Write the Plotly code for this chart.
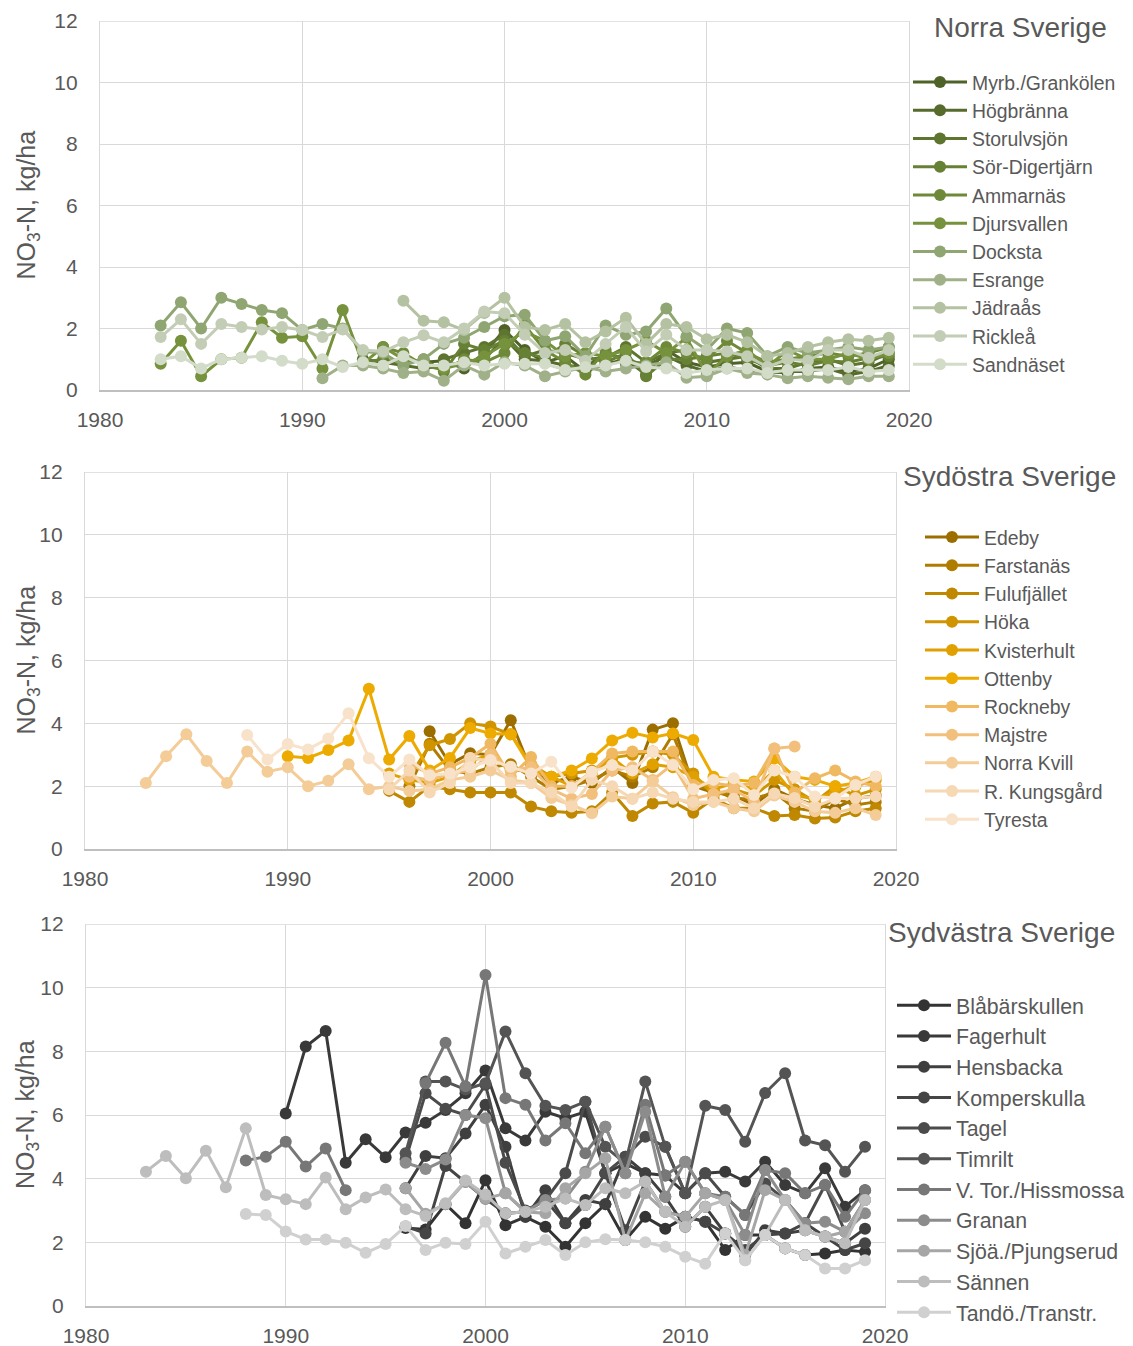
import plotly.graph_objects as go

# Years covered by the deposition series
YEARS = list(range(1983, 2020))


def pad(start, vals):
    """Align a series that begins in `start` to the common YEARS axis."""
    out = [None] * (start - YEARS[0]) + list(vals)
    return out + [None] * (len(YEARS) - len(out))


# ---------------- Norra Sverige ----------------
north_names = ["Myrb./Grankölen", "Högbränna", "Storulvsjön", "Sör-Digertjärn",
               "Ammarnäs", "Djursvallen", "Docksta", "Esrange", "Jädraås",
               "Rickleå", "Sandnäset"]
north_colors = ["#4f6228", "#566b2c", "#5e7530", "#668034", "#6e8a38", "#76923c",
                "#8fa672", "#a0b088", "#b5c2a2", "#c3cdb5", "#d3dbc9"]
myrb = pad(1996, [0.9, 0.95, 0.7, 1.2, 1.95, 1.3, 0.9, 1.1, 0.6, 0.85, 1.0, 0.5, 1.3, 0.9,
                  0.75, 0.85, 0.9, 0.6, 0.55, 0.7, 0.75, 0.6, 0.7, 1.0])
hogbranna = pad(1993, [1.0, 0.9, 0.8, 0.7, 0.8, 0.9, 1.0, 1.7, 1.0, 0.95, 0.8, 0.75, 1.2, 1.0,
                       0.8, 1.1, 0.8, 0.6, 0.75, 0.65, 0.55, 0.6, 0.6, 0.7, 0.5, 0.6, 0.8])
storulvsjon = pad(1997, [1.0, 1.2, 1.4, 1.8, 1.1, 1.3, 1.2, 1.0, 1.05, 1.4, 0.9, 1.2, 1.3, 0.9,
                         1.0, 1.1, 0.7, 0.7, 0.9, 1.0, 0.8, 0.9, 1.2])
sor_digertjarn = pad(1993, [0.9, 1.0, 0.85, 1.0, 0.6, 1.5, 1.3, 1.6, 1.2, 1.05, 1.5, 1.1, 0.9, 1.2,
                            0.45, 1.0, 1.0, 1.1, 1.2, 1.0, 0.8, 0.9, 0.8, 0.95, 0.9, 1.05, 1.1])
ammarnas = pad(1994, [1.4, 1.2, 0.8, 0.65, 1.0, 0.9, 1.2, 2.1, 1.3, 0.9, 0.5, 1.3, 0.85, 0.9,
                      1.4, 1.2, 1.0, 1.6, 1.2, 0.9, 1.0, 1.1, 1.2, 1.1, 1.2, 1.4])
djursvallen = pad(1983, [0.85, 1.6, 0.45, 1.0, 1.05, 2.2, 1.7, 1.75, 0.7, 2.6, 0.85, 1.4, 1.0,
                         0.9, 0.7, 0.85, 1.1, 1.5, 1.9, 1.6, 1.1, 1.2, 1.1, 1.3, 1.6, 1.2, 1.7,
                         0.5, 1.1, 1.3, 0.75, 1.3, 1.0, 1.0, 1.2, 1.0, 1.2])
docksta = pad(1983, [2.1, 2.85, 2.0, 3.0, 2.8, 2.6, 2.5, 1.95, 2.15, 2.0, 1.25, 1.2, 0.8, 1.0,
                     1.5, 1.7, 2.05, 2.4, 2.45, 1.6, 1.75, 1.1, 2.1, 1.8, 1.9, 2.65, 1.75, 1.3,
                     2.0, 1.85, 1.1, 1.4, 1.2, 1.3, 1.4, 1.3, 1.4])
esrange = pad(1991, [0.38, 0.8, 0.8, 0.7, 0.55, 0.6, 0.3, 0.8, 0.5, 0.9, 0.8, 0.45, 0.6, 0.75,
                     0.6, 0.7, 0.8, 0.9, 0.4, 0.45, 0.7, 0.55, 0.5, 0.38, 0.45, 0.4, 0.35, 0.45,
                     0.45])
jadraas = pad(1995, [2.9, 2.25, 2.2, 1.95, 2.5, 3.0, 2.05, 1.95, 2.15, 1.55, 1.9, 2.35, 1.5,
                     2.15, 2.05, 1.65, 1.8, 1.55, 1.1, 1.2, 1.4, 1.55, 1.65, 1.6, 1.7])
ricklea = pad(1983, [1.72, 2.3, 1.5, 2.15, 2.05, 1.97, 2.05, 1.95, 1.72, 1.97, 1.3, 1.25, 1.55,
                     1.78, 1.55, 2.0, 2.55, 2.5, 1.8, 1.2, 1.3, 0.95, 1.5, 2.05, 1.25, 1.8, 1.3,
                     1.3, 1.25, 1.1, 0.75, 1.0, 0.95, 1.3, 1.3, 1.05, 1.3])
sandnaset = pad(1983, [1.0, 1.1, 0.7, 1.0, 1.05, 1.1, 0.95, 0.85, 1.0, 0.75, 0.9, 0.8, 1.1, 0.8,
                       0.8, 0.9, 0.8, 0.85, 0.85, 0.85, 0.65, 0.75, 0.8, 0.95, 0.75, 0.7, 0.55,
                       0.65, 0.7, 0.7, 0.55, 0.65, 0.65, 0.65, 0.75, 0.6, 0.65])
north_values = [myrb, hogbranna, storulvsjon, sor_digertjarn, ammarnas, djursvallen,
                docksta, esrange, jadraas, ricklea, sandnaset]

# ---------------- Sydöstra Sverige ----------------
se_names = ["Edeby", "Farstanäs", "Fulufjället", "Höka", "Kvisterhult", "Ottenby",
            "Rockneby", "Majstre", "Norra Kvill", "R. Kungsgård", "Tyresta"]
se_colors = ["#9c6e00", "#b07c00", "#c08800", "#d09400", "#e0a000", "#edaa00",
             "#f0b860", "#f2c07c", "#f4cc98", "#f6d8b4", "#f8e2ca"]
edeby = pad(1997, [3.75, 2.7, 3.05, 3.0, 4.1, 2.5, 2.1, 2.3, 2.1, 2.6, 2.1, 3.8, 4.0, 2.0, 1.8,
                   1.7, 1.4, 1.9, 1.6, 1.4, 1.3, 1.6, 1.7])
farstanas = pad(1996, [2.0, 3.35, 2.5, 2.4, 2.6, 2.7, 2.3, 1.9, 2.0, 2.2, 2.5, 2.3, 2.6, 3.65,
                       2.0, 1.9, 1.6, 1.6, 1.8, 1.3, 1.2, 1.6, 1.4, 1.5])
fulufjallet = pad(1995, [1.85, 1.5, 2.0, 1.9, 1.8, 1.8, 1.8, 1.35, 1.2, 1.15, 1.2, 1.8, 1.05,
                         1.45, 1.5, 1.15, 1.6, 1.3, 1.3, 1.05, 1.08, 0.97, 1.0, 1.2, 1.3])
hoka = pad(1996, [2.3, 3.3, 3.5, 4.0, 3.9, 3.65, 2.7, 2.3, 2.4, 2.5, 2.9, 3.0, 3.1, 3.0, 2.4,
                  1.7, 1.9, 1.7, 2.2, 1.9, 1.5, 2.0, 1.7, 1.9])
kvisterhult = pad(1995, [2.4, 2.2, 2.1, 2.3, 2.8, 3.0, 2.5, 2.5, 2.3, 2.0, 2.4, 2.9, 2.4, 2.7,
                         2.6, 2.3, 1.9, 2.1, 1.9, 2.5, 1.7, 1.6, 1.8, 2.0, 2.2])
ottenby = pad(1990, [2.95, 2.9, 3.15, 3.45, 5.1, 2.85, 3.6, 2.5, 2.9, 3.85, 3.68, 3.65, 2.6,
                     2.3, 2.5, 2.88, 3.45, 3.7, 3.55, 3.68, 3.47, 2.3, 2.2, 2.15, 2.88, 2.3,
                     2.2, 2.0, 2.1, 2.3])
rockneby = pad(1996, [2.7, 2.4, 2.6, 2.9, 3.35, 2.3, 2.93, 2.0, 2.0, 2.45, 3.04, 3.1, 3.1, 3.1,
                      2.04, 2.1, 2.0, 2.1, 3.2, 1.8, 2.25, 2.5, 2.15, 2.0])
majstre = pad(1996, [2.3, 2.2, 2.4, 2.5, 3.0, 2.5, 2.6, 1.9, 1.6, 1.75, 2.5, 2.6, 2.2, 2.7, 1.6,
                     1.75, 1.9, 1.5, 3.2, 3.26])
norra_kvill = pad(1983, [2.1, 2.95, 3.65, 2.8, 2.1, 3.1, 2.46, 2.6, 2.0, 2.17, 2.7, 1.9, 2.0,
                         1.85, 1.9, 2.2, 2.3, 2.5, 2.2, 2.1, 1.62, 1.4, 1.14, 1.67, 1.6, 2.15,
                         1.65, 1.4, 1.5, 1.3, 1.2, 1.7, 1.5, 1.2, 1.15, 1.3, 1.08])
r_kungsgard = pad(1995, [1.9, 2.5, 1.8, 2.1, 2.9, 2.8, 2.1, 2.1, 1.8, 1.35, 2.2, 2.0, 1.6, 1.8,
                         1.6, 1.5, 1.5, 1.6, 1.3, 1.77, 1.62, 1.35, 1.6, 1.62, 1.67])
tyresta = pad(1988, [3.63, 2.85, 3.34, 3.17, 3.52, 4.32, 2.89, 2.3, 2.85, 2.35, 2.4, 2.6, 2.83,
                     2.62, 2.4, 2.78, 1.95, 2.46, 2.67, 2.5, 3.1, 2.67, 1.9, 2.2, 2.25, 1.72,
                     2.5, 2.3, 1.67, 1.62, 2.04, 2.3])
se_values = [edeby, farstanas, fulufjallet, hoka, kvisterhult, ottenby, rockneby, majstre,
             norra_kvill, r_kungsgard, tyresta]

# ---------------- Sydvästra Sverige ----------------
sw_names = ["Blåbärskullen", "Fagerhult", "Hensbacka", "Komperskulla", "Tagel", "Timrilt",
            "V. Tor./Hissmossa", "Granan", "Sjöä./Pjungserud", "Sännen", "Tandö./Transtr."]
sw_colors = ["#333333", "#393939", "#3f3f3f", "#454545", "#4b4b4b", "#545454",
             "#777777", "#8c8c8c", "#a6a6a6", "#bdbdbd", "#d0d0d0"]
blabarskullen = pad(1996, [2.45, 2.4, 3.2, 2.6, 3.95, 2.54, 2.8, 2.49, 1.86, 2.6, 3.2, 2.07, 2.8,
                           2.43, 2.8, 2.65, 1.76, 2.23, 2.23, 1.81, 1.6, 1.65, 1.76, 1.7])
fagerhult = pad(1990, [6.05, 8.15, 8.64, 4.5, 5.24, 4.67, 5.45, 5.76, 6.16, 6.68, 7.4, 5.58, 5.2,
                       6.1, 5.9, 6.1, 4.17, 4.48, 4.17, 4.1, 3.54, 4.17, 4.22, 3.91, 4.53, 3.8,
                       3.54, 4.33, 3.12, 3.64])
hensbacka = pad(1996, [3.7, 4.71, 4.64, 5.42, 6.32, 5.0, 2.8, 3.64, 2.6, 3.33, 3.2, 4.69, 4.17,
                       3.43, 2.49, 3.12, 2.28, 1.6, 2.38, 2.28, 2.38, 2.18, 1.97, 2.43])
komperskulla = pad(1996, [2.5, 2.28, 4.4, 3.9, 3.37, 2.91, 2.96, 3.33, 2.6, 3.17, 4.17, 2.38,
                          3.91, 2.96, 2.8, 2.65, 2.28, 1.76, 2.23, 2.28, 2.6, 2.18, 1.76, 1.97])
tagel = pad(1996, [4.6, 6.68, 6.2, 6.0, 6.95, 4.5, 3.0, 3.33, 4.17, 6.42, 4.17, 4.69, 5.32, 5.0,
                   3.54, 4.17, 3.43, 2.86, 3.85, 3.33, 2.6, 3.8, 2.33, 3.33])
timrilt = pad(1996, [4.8, 7.05, 7.05, 6.8, 7.0, 8.62, 7.31, 6.29, 6.16, 6.42, 5.0, 4.48, 7.05,
                     5.0, 3.54, 6.29, 6.16, 5.16, 6.69, 7.31, 5.2, 5.05, 4.22, 5.0])
v_tor = pad(1988, [4.57, 4.69, 5.16, 4.38, 4.95, 3.64, None, None, None, 7.0, 8.27, 6.9, 10.4,
                   6.53, 6.32, 5.2, 5.74, 4.8, 5.63, 4.17, 6.32, 4.1, 4.53, 3.54, 3.43, 2.86,
                   4.27, 4.17, 3.54, 3.8, 2.8, 3.64])
granan = pad(1996, [4.5, 4.3, 4.6, 6.0, 5.9, 3.54, 2.96, 3.33, 3.38, 4.22, 5.63, 4.17, 6.1, 3.43,
                    4.53, 3.54, 3.33, 2.23, 4.27, 3.33, 2.6, 2.65, 2.33, 2.91])
sjoa = pad(1996, [3.7, 2.9, 3.2, 3.9, 3.37, 3.54, 2.96, 2.91, 3.7, 4.17, 4.64, 2.07, 3.54, 2.96,
                  2.8, 3.54, 3.33, 1.6, 3.64, 3.33, 2.38, 2.18, 2.33, 3.33])
sannen = pad(1983, [4.22, 4.71, 4.01, 4.88, 3.73, 5.58, 3.49, 3.35, 3.2, 4.04, 3.04, 3.41, 3.66,
                    3.04, 2.83, 3.23, 3.94, 3.5, 2.91, 2.96, 3.12, 3.38, 3.17, 3.7, 3.54, 3.91,
                    2.96, 2.49, 3.12, 3.33, 1.44, 2.23, 3.33, 2.38, 2.18, 1.97, 3.33])
tando = pad(1988, [2.89, 2.86, 2.34, 2.09, 2.09, 1.99, 1.67, 1.95, 2.51, 1.76, 1.99, 1.95, 2.65,
                   1.65, 1.86, 2.07, 1.6, 2.0, 2.1, 2.07, 2.0, 1.86, 1.55, 1.33, 2.28, 1.44,
                   2.23, 1.81, 1.6, 1.18, 1.18, 1.44])
sw_values = [blabarskullen, fagerhult, hensbacka, komperskulla, tagel, timrilt, v_tor, granan,
             sjoa, sannen, tando]

# ---------------- figure ----------------
W, H = 1133, 1346
FONT = "Liberation Sans, Arial, sans-serif"
TXT = "#595959"
GRID = "#d9d9d9"
AXIS = "#bfbfbf"

# plot areas in page pixels: (left, right, top, bottom); legend box top-left; title centre
panels = [
    dict(names=north_names, colors=north_colors, values=north_values,
         box=(100, 909, 21, 390), title="Norra Sverige", title_xy=(1020, 27),
         legend_xy=(908, 63), legend_size=19.4),
    dict(names=se_names, colors=se_colors, values=se_values,
         box=(85, 896, 472, 849), title="Sydöstra Sverige", title_xy=(1009, 476),
         legend_xy=(920, 518), legend_size=19.4),
    dict(names=sw_names, colors=sw_colors, values=sw_values,
         box=(86, 885, 924, 1306), title="Sydvästra Sverige", title_xy=(1001, 932),
         legend_xy=(892, 985), legend_size=21.3),
]

fig = go.Figure()
annotations = []
shapes = []
for i, p in enumerate(panels, start=1):
    sfx = "" if i == 1 else str(i)
    leg = "legend" if i == 1 else f"legend{i}"
    for name, color, vals in zip(p["names"], p["colors"], p["values"]):
        fig.add_trace(go.Scatter(
            x=YEARS, y=vals, name=name, mode="lines+markers",
            line=dict(color=color, width=3),
            marker=dict(color=color, size=12),
            connectgaps=False,
            xaxis="x" + sfx, yaxis="y" + sfx, legend=leg,
        ))
    l, r, t, b = p["box"]
    fig.update_layout(**{
        "xaxis" + sfx: dict(
            domain=[l / W, r / W], range=[1980, 2020], anchor="y" + sfx,
            tickvals=[1980, 1990, 2000, 2010, 2020], showgrid=True, gridcolor=GRID,
            gridwidth=1.4, zeroline=False, showline=True, linecolor=AXIS, linewidth=2,
            ticks="", automargin=False,
            tickfont=dict(family=FONT, size=21, color=TXT), ticklabelstandoff=10,
        ),
        "yaxis" + sfx: dict(
            domain=[1 - b / H, 1 - t / H], range=[0, 12], anchor="x" + sfx,
            tickvals=[0, 2, 4, 6, 8, 10, 12], showgrid=True, gridcolor=GRID,
            gridwidth=1.4, zeroline=False, showline=True, mirror=True,
            linecolor=GRID, linewidth=1.4, ticks="", ticklabelstandoff=17,
            automargin=False, tickfont=dict(family=FONT, size=21, color=TXT),
        ),
        leg: dict(
            x=p["legend_xy"][0] / W, y=1 - p["legend_xy"][1] / H,
            xanchor="left", yanchor="top", bgcolor="rgba(0,0,0,0)",
            font=dict(family=FONT, size=p["legend_size"], color=TXT), itemwidth=54,
            tracegroupgap=0,
        ),
    })
    # top frame line at the 12 gridline
    shapes.append(dict(
        type="line", xref="x" + sfx + " domain", yref="y" + sfx,
        x0=0, x1=1, y0=12, y1=12, line=dict(color=GRID, width=1.4), layer="below",
    ))
    annotations.append(dict(
        text=p["title"], x=p["title_xy"][0] / W, y=1 - p["title_xy"][1] / H,
        xref="paper", yref="paper", xanchor="center", yanchor="middle",
        showarrow=False, font=dict(family=FONT, size=28, color=TXT),
    ))
    annotations.append(dict(
        text="NO<sub>3</sub>-N, kg/ha", x=27 / W, y=1 - ((t + b) / 2) / H,
        xref="paper", yref="paper", xanchor="center", yanchor="middle",
        textangle=-90, showarrow=False, font=dict(family=FONT, size=25, color=TXT),
    ))

fig.update_layout(
    width=W, height=H, margin=dict(l=0, r=0, t=0, b=0, autoexpand=False),
    paper_bgcolor="white", plot_bgcolor="white",
    annotations=annotations, shapes=shapes, showlegend=True,
)

fig.write_html("out.html")
